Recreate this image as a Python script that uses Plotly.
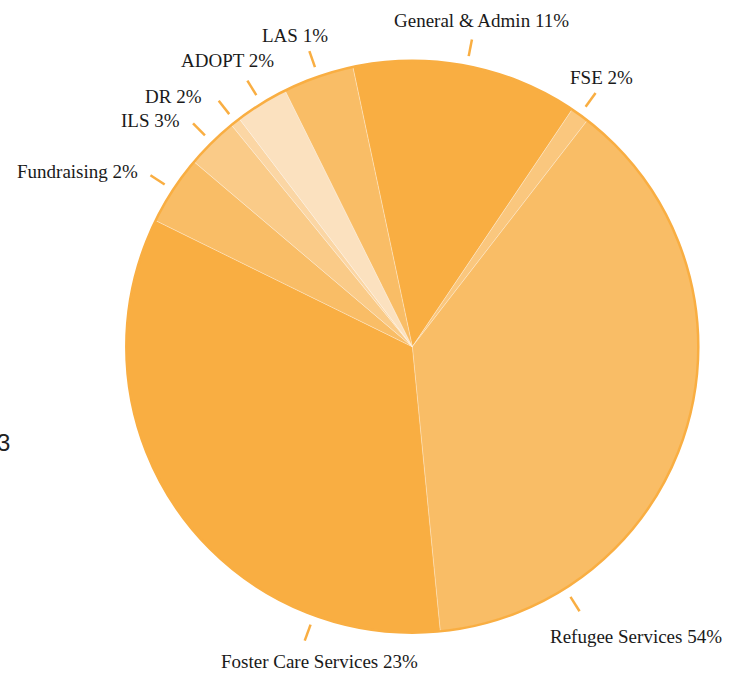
import math
import plotly.graph_objects as go

# ---------------- data ----------------
categories = ["General & Admin", "FSE", "Refugee Services", "Foster Care Services",
              "Fundraising", "ILS", "DR", "ADOPT", "LAS"]
values = [12.77, 1.04, 37.97, 33.83, 3.92, 2.92, 0.56, 3.00, 4.00]
label_pcts = ["11%", "2%", "54%", "23%", "2%", "3%", "2%", "2%", "1%"]
colors = ["#F9AE42", "#FAC77E", "#F9BD66", "#F9AE42", "#F9BD66",
          "#FACB88", "#FBD6A4", "#FBE1BF", "#F9BD66"]

# ---------------- layout settings ----------------
W, H = 734, 677
CX, CY, R = 412.3, 346.7, 286.0
ROTATION = -12.0  # first slice starts 12 deg before 12 o'clock, clockwise
TICK_R0, TICK_R1 = 296.0, 313.0
# label angle overrides (deg clockwise from 12 o'clock) for labels not at slice middle
ANGLE_OVERRIDE = {"Refugee Services": 147.7, "Foster Care Services": 200.1}
# label placement relative to tick end: (xanchor, dx, dy) in px
LABEL_POS = {
    "General & Admin": ("center", 10, -19),
    "FSE": ("center", 6, -15),
    "Refugee Services": ("left", -32, 25),
    "Foster Care Services": ("center", 15, 21),
    "Fundraising": ("right", -10, -4),
    "ILS": ("right", -11, -3),
    "DR": ("right", -15, -4),
    "ADOPT": ("center", -20, -20),
    "LAS": ("center", -14, -16),
}
FONT = "Liberation Serif"


def px(x):
    return x / W


def py(y):
    return 1 - y / H


fig = go.Figure(go.Pie(
    labels=categories,
    values=values,
    sort=False,
    direction="clockwise",
    rotation=ROTATION,
    marker=dict(colors=colors, line=dict(color="rgba(255,255,255,0.35)", width=0.8)),
    textinfo="none",
    hoverinfo="label+percent",
    showlegend=False,
    domain=dict(x=[px(CX - R), px(CX + R)], y=[py(CY + R), py(CY - R)]),
))

shapes = []
annotations = []
total = sum(values)
cum = 0.0
for cat, v, pct in zip(categories, values, label_pcts):
    mid = ROTATION + (cum + v / 2) / total * 360.0
    cum += v
    ang = ANGLE_OVERRIDE.get(cat, mid)
    a = math.radians(ang)
    s, c = math.sin(a), -math.cos(a)
    x0, y0 = CX + TICK_R0 * s, CY + TICK_R0 * c
    x1, y1 = CX + TICK_R1 * s, CY + TICK_R1 * c
    shapes.append(dict(type="line", xref="paper", yref="paper",
                       x0=px(x0), y0=py(y0), x1=px(x1), y1=py(y1),
                       line=dict(color="#F9AE42", width=2.5)))
    xa, dx, dy = LABEL_POS[cat]
    annotations.append(dict(
        x=px(x1 + dx), y=py(y1 + dy), xref="paper", yref="paper",
        text=f"{cat} {pct}", showarrow=False, xanchor=xa, yanchor="middle",
        font=dict(family=FONT, size=19, color="#1a1a1a"),
    ))

# outer rim stroke
shapes.append(dict(type="circle", xref="paper", yref="paper",
                   x0=px(CX - R), x1=px(CX + R), y0=py(CY + R), y1=py(CY - R),
                   line=dict(color="#F9AE42", width=2.5), fillcolor="rgba(0,0,0,0)"))

# clipped text at left edge (partly cut off in the reference as well)
annotations.append(dict(x=px(12), y=py(442), xref="paper", yref="paper", text="3",
                        showarrow=False, xanchor="right", yanchor="middle",
                        font=dict(family="Liberation Sans", size=24, color="#222222")))

fig.update_layout(
    width=W, height=H,
    margin=dict(l=0, r=0, t=0, b=0),
    paper_bgcolor="white", plot_bgcolor="white",
    shapes=shapes, annotations=annotations,
)

fig.write_html("out.html", config={"displayModeBar": False},
               post_script="document.body.style.margin='0';")
